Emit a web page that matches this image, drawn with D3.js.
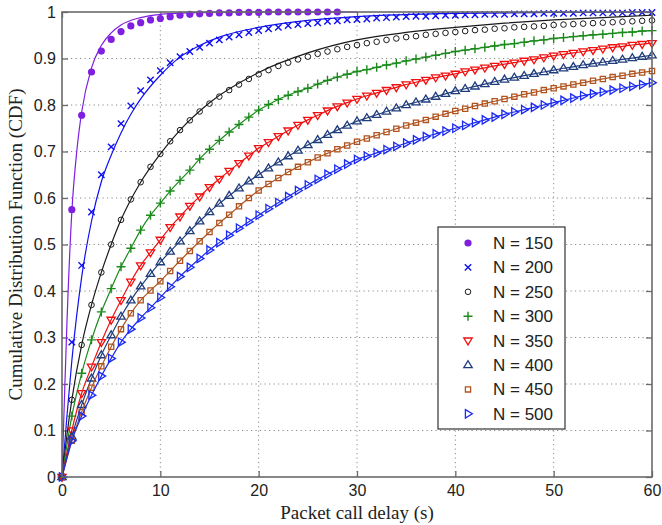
<!DOCTYPE html>
<html>
<head>
<meta charset="utf-8">
<script src="https://cdn.jsdelivr.net/npm/d3@7"></script>
<style>
body { margin: 0; background: white; }
.tick-label { font-family: "Liberation Sans", Arial, sans-serif; font-size: 16px; fill: #222; }
.title { font-family: "Liberation Serif", "Times New Roman", serif; font-size: 19px; fill: #222; }
.legend text { font-family: "Liberation Sans", Arial, sans-serif; font-size: 17px; fill: #222; }
</style>
</head>
<body>
<script>

// sample times of the simulated points (s)
const delaySec = [0,1,2,3,4,5,6,7,8,9,10,11,12,13,14,15,16,17,18,19,20,
  21,22,23,24,25,26,27,28,29,30,31,32,33,34,35,36,37,38,39,40,
  41,42,43,44,45,46,47,48,49,50,51,52,53,54,55,56,57,58,59,60];

const xTicks = [0, 10, 20, 30, 40, 50, 60];
const yTicks = [0, 0.1, 0.2, 0.3, 0.4, 0.5, 0.6, 0.7, 0.8, 0.9, 1];

const seriesNames = ["N = 150", "N = 200", "N = 250", "N = 300", "N = 350", "N = 400", "N = 450", "N = 500"];

// simulated CDF points
const cdf150 = [0,0.575,0.778,0.871,0.916,0.941,0.958,0.970,0.977,0.983,0.986,0.990,0.993,0.995,0.996,
  0.997,0.998,0.998,0.999,0.999,0.999,1,1,1,1,1,1,1,1];
const cdf200 = [0,0.29,0.455,0.57,0.65,0.71,0.76,0.798,0.831,0.854,0.874,0.891,0.904,0.915,0.924,0.933,
  0.94,0.946,0.951,0.956,0.96,0.964,0.967,0.971,0.973,0.975,0.977,0.98,0.981,0.983,0.984,
  0.985,0.987,0.988,0.989,0.99,0.991,0.991,0.992,0.993,0.993,0.994,0.994,0.995,0.995,0.995,
  0.996,0.996,0.996,0.997,0.997,0.997,0.997,0.998,0.998,0.998,0.998,0.998,0.999,0.999,0.999];
const cdf250 = [0,0.166,0.284,0.37,0.44,0.50,0.553,0.597,0.634,0.667,0.695,0.722,0.746,0.767,0.786,0.803,
  0.818,0.832,0.844,0.856,0.866,0.875,0.884,0.891,0.898,0.904,0.91,0.915,0.92,0.925,0.929,
  0.933,0.936,0.94,0.943,0.946,0.948,0.951,0.953,0.955,0.957,0.959,0.961,0.962,0.964,0.965,
  0.967,0.968,0.969,0.97,0.972,0.973,0.974,0.975,0.976,0.977,0.978,0.979,0.98,0.981,0.982];
const cdf300 = [0,0.131,0.223,0.295,0.355,0.405,0.452,0.492,0.531,0.563,0.589,0.615,0.638,0.66,0.684,0.705,
  0.724,0.742,0.758,0.774,0.789,0.801,0.812,0.821,0.829,0.836,0.845,0.853,0.86,0.866,0.872,
  0.876,0.881,0.886,0.89,0.895,0.899,0.903,0.907,0.911,0.915,0.918,0.921,0.924,0.927,0.93,
  0.932,0.935,0.938,0.94,0.943,0.945,0.947,0.949,0.951,0.952,0.954,0.956,0.957,0.959,0.96];
const cdf350 = [0,0.10,0.18,0.237,0.29,0.338,0.38,0.42,0.455,0.483,0.51,0.537,0.56,0.583,0.603,0.623,
  0.641,0.658,0.675,0.691,0.707,0.72,0.733,0.745,0.757,0.768,0.778,0.788,0.797,0.805,0.813,
  0.82,0.826,0.832,0.838,0.844,0.849,0.854,0.859,0.863,0.867,0.872,0.876,0.88,0.884,0.888,
  0.891,0.895,0.898,0.902,0.906,0.909,0.912,0.915,0.918,0.921,0.924,0.926,0.929,0.931,0.933];
const cdf400 = [0,0.087,0.155,0.212,0.262,0.305,0.345,0.38,0.41,0.437,0.462,0.485,0.507,0.529,0.55,0.57,
  0.588,0.605,0.621,0.636,0.65,0.664,0.677,0.69,0.702,0.714,0.725,0.736,0.746,0.756,0.765,
  0.772,0.779,0.786,0.793,0.8,0.806,0.812,0.818,0.824,0.83,0.835,0.84,0.845,0.85,0.855,
  0.859,0.863,0.867,0.871,0.875,0.879,0.882,0.886,0.889,0.892,0.895,0.898,0.901,0.904,0.907];
const cdf450 = [0,0.078,0.14,0.192,0.238,0.28,0.318,0.352,0.38,0.401,0.421,0.443,0.465,0.486,0.507,0.527,
  0.546,0.564,0.582,0.6,0.616,0.63,0.643,0.656,0.667,0.677,0.687,0.696,0.705,0.713,0.721,
  0.728,0.735,0.742,0.749,0.756,0.762,0.768,0.775,0.781,0.787,0.792,0.798,0.803,0.808,0.813,
  0.818,0.823,0.827,0.832,0.836,0.84,0.844,0.848,0.852,0.856,0.86,0.863,0.867,0.87,0.873];
const cdf500 = [0,0.078,0.131,0.176,0.217,0.255,0.29,0.318,0.342,0.364,0.386,0.409,0.431,0.451,0.47,0.488,
  0.504,0.52,0.535,0.549,0.563,0.577,0.59,0.603,0.616,0.628,0.64,0.651,0.662,0.673,0.683,
  0.69,0.697,0.704,0.711,0.718,0.725,0.732,0.738,0.744,0.75,0.756,0.762,0.768,0.774,0.78,
  0.785,0.79,0.795,0.8,0.805,0.81,0.815,0.82,0.824,0.828,0.832,0.836,0.84,0.844,0.848];

// analytical curves where they part from the simulated points
const fitDelay150 = [0,0.25,0.5,1,1.5,2,3,4,5,6,8,10,15,20,30];
const fit150 = [0,0.17,0.33,0.57,0.70,0.785,0.88,0.928,0.955,0.972,0.988,0.995,0.999,1,1];
const fitDelay200 = [0,0.5,1,2,3,4,5,6,7,8,10,12,14,16,20,25,30,40,50,60];
const fit200 = [0,0.13,0.25,0.43,0.55,0.635,0.692,0.74,0.78,0.813,0.864,0.903,0.928,0.946,0.967,0.982,0.99,0.997,0.999,1];
const fitDelay250 = [0,0.5,1,2,3,4,5,6,8,10,12,15,20,25,30,35,40,45,50,55,60];
const fit250 = [0,0.09,0.166,0.284,0.37,0.44,0.5,0.553,0.634,0.695,0.746,0.805,0.87,0.912,0.94,0.956,0.967,0.976,0.983,0.988,0.993];

const W = 662, H = 525;
const margin = {top: 12, right: 10, bottom: 48, left: 62};
const width = W - margin.left - margin.right;
const height = H - margin.top - margin.bottom;

const svg = d3.select("body").append("svg")
  .attr("width", W).attr("height", H);
const g = svg.append("g").attr("transform", `translate(${margin.left},${margin.top})`);

const x = d3.scaleLinear().domain([0, 60]).range([0, width]);
const y = d3.scaleLinear().domain([0, 1]).range([height, 0]);

const frameColor = "#6a6a6a";

// dotted grid
g.append("g").selectAll("line").data(xTicks.slice(1, -1)).enter().append("line")
  .attr("x1", d => x(d)).attr("x2", d => x(d)).attr("y1", 0).attr("y2", height)
  .attr("stroke", "#8a8a8a").attr("stroke-width", 1).attr("stroke-dasharray", "1.2,3.3");
g.append("g").selectAll("line").data(yTicks.slice(1, -1)).enter().append("line")
  .attr("y1", d => y(d)).attr("y2", d => y(d)).attr("x1", 0).attr("x2", width)
  .attr("stroke", "#8a8a8a").attr("stroke-width", 1).attr("stroke-dasharray", "1.2,3.3");

// axes: ticks inward on all four sides
const tickLen = 6;
g.append("g").attr("transform", `translate(0,${height})`)
  .call(d3.axisBottom(x).tickValues(xTicks).tickSize(-tickLen).tickPadding(8).tickFormat(d3.format("d")))
  .call(a => a.select(".domain").remove());
g.append("g").attr("transform", "translate(0,0)")
  .call(d3.axisTop(x).tickValues(xTicks).tickSize(-tickLen).tickFormat(""))
  .call(a => a.select(".domain").remove());
g.append("g")
  .call(d3.axisLeft(y).tickValues(yTicks).tickSize(-tickLen).tickPadding(6).tickFormat(d3.format("~g")))
  .call(a => a.select(".domain").remove());
g.append("g").attr("transform", `translate(${width},0)`)
  .call(d3.axisRight(y).tickValues(yTicks).tickSize(-tickLen).tickFormat(""))
  .call(a => a.select(".domain").remove());

g.selectAll(".tick line").attr("stroke", frameColor).attr("stroke-width", 1.3);
g.selectAll(".tick text").attr("class", "tick-label").attr("fill", "#222")
  .style("font-family", '"Liberation Sans", Arial, sans-serif').style("font-size", "16px");

// marker shapes
function markerPath(type) {
  if (type === "x") return "M-3.2,-3.2L3.2,3.2M-3.2,3.2L3.2,-3.2";
  if (type === "plus") return "M-4.5,0H4.5M0,-4.5V4.5";
  if (type === "down") return "M-4.2,-2.6L4.2,-2.6L0,4.3Z";
  if (type === "up") return "M-4.2,2.6L4.2,2.6L0,-4.3Z";
  if (type === "square") return "M-2.6,-2.6H2.6V2.6H-2.6Z";
  if (type === "right") return "M-2.6,-4.2L4.3,0L-2.6,4.2Z";
  return "";
}
function drawMarker(sel, type, color) {
  if (type === "dot") {
    sel.append("circle").attr("r", 3.6).attr("fill", color);
  } else if (type === "ring") {
    sel.append("circle").attr("r", 2.8).attr("fill", "none").attr("stroke", color).attr("stroke-width", 1);
  } else {
    sel.append("path").attr("d", markerPath(type)).attr("fill", "none")
      .attr("stroke", color).attr("stroke-width", type === "x" || type === "plus" ? 1.4 : 1.3);
  }
}

const series = [
  {name: seriesNames[0], color: "#7f1fe0", type: "dot", pts: cdf150, fitX: fitDelay150, fitY: fit150},
  {name: seriesNames[1], color: "#1010f0", type: "x", pts: cdf200, fitX: fitDelay200, fitY: fit200},
  {name: seriesNames[2], color: "#1a1a1a", type: "ring", pts: cdf250, fitX: fitDelay250, fitY: fit250},
  {name: seriesNames[3], color: "#1a8a1a", type: "plus", pts: cdf300},
  {name: seriesNames[4], color: "#f01010", type: "down", pts: cdf350},
  {name: seriesNames[5], color: "#1f3c7c", type: "up", pts: cdf400},
  {name: seriesNames[6], color: "#b0531e", type: "square", pts: cdf450},
  {name: seriesNames[7], color: "#1a2af0", type: "right", pts: cdf500}
];

const line = d3.line().x(d => x(d[0])).y(d => y(d[1])).curve(d3.curveMonotoneX);

const plot = g.append("g");
series.forEach(s => {
  const fitPts = s.fitX ? s.fitX.map((t, i) => [t, s.fitY[i]]) : s.pts.map((v, i) => [delaySec[i], v]);
  plot.append("path").datum(fitPts).attr("d", line)
    .attr("fill", "none").attr("stroke", s.color).attr("stroke-width", 1.2);
  plot.append("g").selectAll("g").data(s.pts).enter().append("g")
    .attr("transform", (v, i) => `translate(${x(delaySec[i])},${y(v)})`)
    .each(function() { drawMarker(d3.select(this), s.type, s.color); });
});

// frame
g.append("rect").attr("x", 0).attr("y", 0).attr("width", width).attr("height", height)
  .attr("fill", "none").attr("stroke", frameColor).attr("stroke-width", 1.6);

// axis titles
svg.append("text").attr("class", "title")
  .attr("x", margin.left + width / 2).attr("y", 519).attr("text-anchor", "middle")
  .text("Packet call delay (s)");
svg.append("text").attr("class", "title")
  .attr("transform", `translate(22,${margin.top + height / 2}) rotate(-90)`)
  .attr("text-anchor", "middle")
  .text("Cumulative Distribution Function (CDF)");

// legend
const legend = svg.append("g").attr("class", "legend").attr("transform", "translate(438,227)");
legend.append("rect").attr("width", 127).attr("height", 202)
  .attr("fill", "white").attr("stroke", "#333").attr("stroke-width", 1.2);
series.forEach((s, i) => {
  const row = legend.append("g").attr("transform", `translate(0,${16 + i * 24.4})`);
  drawMarker(row.append("g").attr("transform", "translate(30,0)"), s.type, s.color);
  row.append("text").attr("x", 55).attr("y", 6).text(s.name);
});

</script>
</body>
</html>
